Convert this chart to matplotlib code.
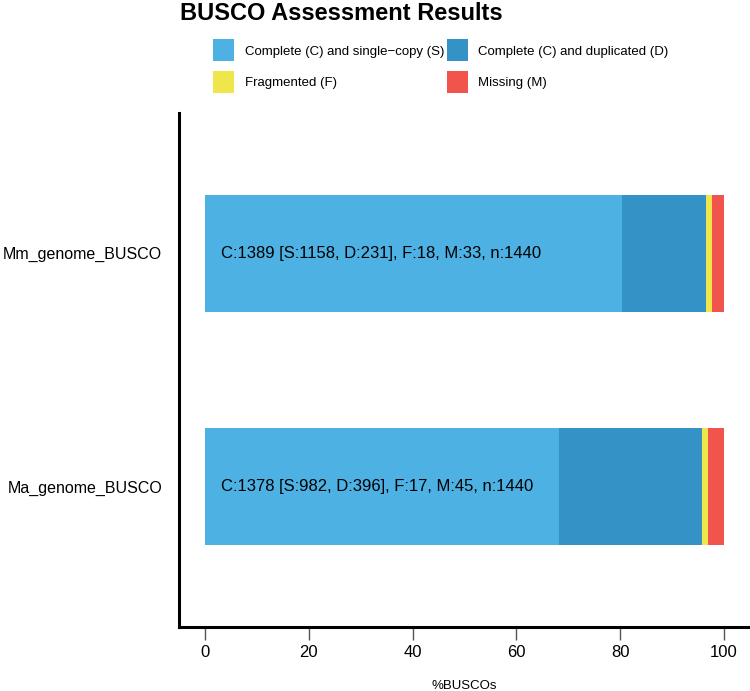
import matplotlib.pyplot as plt
from matplotlib.patches import Patch

plt.rcParams['font.family'] = ['Liberation Sans', 'DejaVu Sans']

# ---- data (counts from the BUSCO summary lines) ----
species = ["Ma_genome_BUSCO", "Mm_genome_BUSCO"]
single = [982, 1158]
duplicated = [396, 231]
fragmented = [17, 18]
missing = [45, 33]
total = [1440, 1440]

categories = ["Complete (C) and single\u2212copy (S)", "Complete (C) and duplicated (D)",
              "Fragmented (F)", "Missing (M)"]
colors = ["#4DB1E3", "#3492C6", "#EFE64C", "#F0544C"]

fig = plt.figure(figsize=(7.5, 6.91), dpi=100)
ax = fig.add_axes([0.2387, 0.0926, 0.7613, 0.7439])

pos = list(range(len(species)))
left = [0.0] * len(species)
for vals, col in zip([single, duplicated, fragmented, missing], colors):
    pct = [v / n * 100 for v, n in zip(vals, total)]
    ax.barh(pos, pct, left=left, height=0.5, color=col, linewidth=0)
    left = [a + b for a, b in zip(left, pct)]

# summary text in each bar
for i in pos:
    c = single[i] + duplicated[i]
    txt = f"C:{c} [S:{single[i]}, D:{duplicated[i]}], F:{fragmented[i]}, M:{missing[i]}, n:{total[i]}"
    ax.text(3, i, txt, va="center", ha="left", fontsize=12, color="black")

ax.set_xlim(-5, 105)
ax.set_ylim(-0.6, 1.6)
ax.set_yticks(pos)
ax.set_yticklabels(species, fontsize=11.5)
ax.set_xticks([0, 20, 40, 60, 80, 100])
ax.tick_params(axis="x", length=9, width=1, color="#555555", labelsize=12, pad=4)
ax.tick_params(axis="y", length=0, pad=12)
ax.set_xlabel("%BUSCOs", fontsize=9.5, labelpad=14)

for s in ["top", "right"]:
    ax.spines[s].set_visible(False)
for s in ["left", "bottom"]:
    ax.spines[s].set_linewidth(2.2)
    ax.spines[s].set_color("black")

fig.text(0.24, 0.981, "BUSCO Assessment Results", fontsize=17, fontweight="bold", va="center", ha="left")

# legend filled row by row like the original (S, D / F, M)
handles = [Patch(facecolor=c, edgecolor="none") for c in colors]
order = [0, 2, 1, 3]
fig.legend([handles[k] for k in order], [categories[k] for k in order],
           loc="upper left", bbox_to_anchor=(0.284, 0.943), ncol=2,
           frameon=False, fontsize=9.5, handlelength=1.6, handleheight=2.2,
           columnspacing=0.2, labelspacing=0.7, handletextpad=0.8,
           borderpad=0, borderaxespad=0)

fig.savefig("out.png", dpi=100)
